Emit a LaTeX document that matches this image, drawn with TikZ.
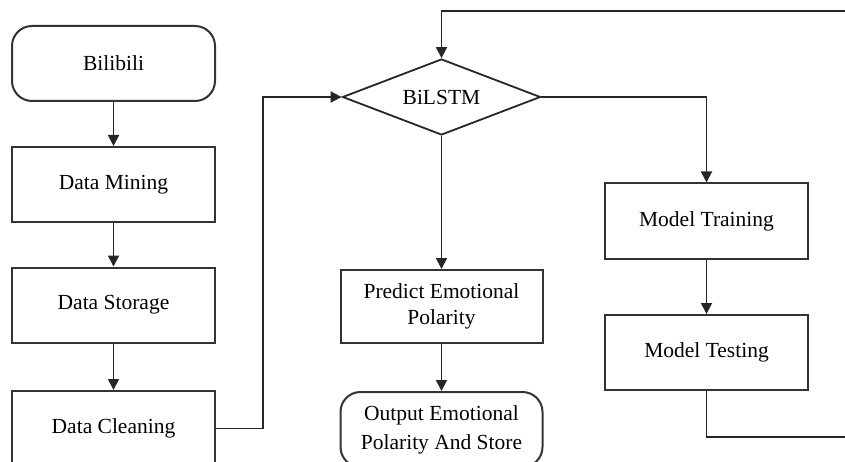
\documentclass[tikz,border=0pt]{standalone}
\usepackage{fontspec}
\setmainfont{Liberation Serif}
\usetikzlibrary{shapes.geometric,arrows.meta}
\begin{document}
\begin{tikzpicture}[x=1pt,y=-1pt,
  every node/.style={font=\fontsize{21.5}{26}\selectfont, text=black, align=center},
  box/.style={draw=black!80, line width=2pt, rectangle, minimum width=203pt, minimum height=75pt, inner sep=0pt},
  rbox/.style={box, rounded corners=20pt},
  dia/.style={draw=black!85, line width=1.8pt, diamond, aspect=3, minimum width=198pt, minimum height=76pt, inner sep=0pt},
  arr/.style={draw=black!85, line width=1.8pt, -{Triangle[length=11pt,width=11pt]}},
  ln/.style={draw=black!85, line width=1.8pt}]
\useasboundingbox (0,0) rectangle (845,462);
\clip (0,0) rectangle (845,462);
\node[rbox] (bili) at (113.5,63.5) {Bilibili};
\node[box] (mine) at (113.5,184.5) {Data Mining};
\node[box] (stor) at (113.5,305) {Data Storage};
\node[box] (clean) at (113.5,428.5) {Data Cleaning};
\node[dia] (bil) at (441.5,97) {BiLSTM};
\node[box, minimum width=202pt, minimum height=73pt, font=\fontsize{21.5}{26}\selectfont] (pred) at (441.5,306.5) {Predict Emotional\\Polarity};
\node[rbox, minimum width=202pt, font=\fontsize{21.5}{29}\selectfont] (out) at (441.5,429.5) {Output Emotional\\Polarity And Store};
\node[box] (train) at (706.5,221) {Model Training};
\node[box] (test) at (706.5,352.5) {Model Testing};
\coordinate (b1) at (706.5,437);
\coordinate (b2) at (870,437);
\coordinate (t2) at (870,11);
\coordinate (t1) at (441.5,11);
\draw[arr] (bili) -- (mine);
\draw[arr] (mine) -- (stor);
\draw[arr] (stor) -- (clean);
\draw[arr] (clean.east) -- ++(47,0) |- (bil.west);
\draw[arr] (bil.south) -- (pred.north);
\draw[arr] (pred.south) -- (out.north);
\draw[arr] (bil.east) -| (train.north);
\draw[arr] (train) -- (test);
\draw[arr] (test.south) -- (b1) -- (b2) -- (t2) -- (t1) -- (bil.north);
\end{tikzpicture}
\end{document}
